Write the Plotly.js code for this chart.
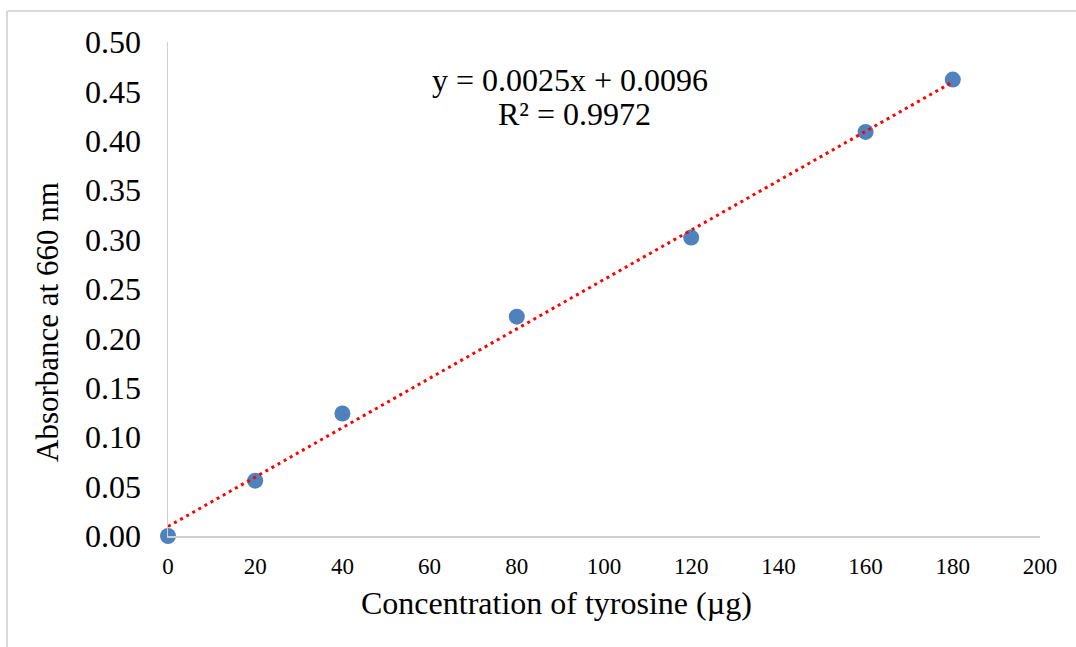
<!DOCTYPE html>
<html>
<head>
<meta charset="utf-8">
<script src="https://cdn.plot.ly/plotly-3.0.1.min.js"></script>
<style>
html,body{margin:0;padding:0;background:#fff;}
#chart{width:1076px;height:647px;}
</style>
</head>
<body>
<div id="chart"></div>
<script>
// Data
const concentration = [0, 20, 40, 80, 120, 160, 180];
const absorbance = [0.000, 0.056, 0.124, 0.222, 0.302, 0.409, 0.462];
const xTicks = [0, 20, 40, 60, 80, 100, 120, 140, 160, 180, 200];
const yTicks = [0, 0.05, 0.10, 0.15, 0.20, 0.25, 0.30, 0.35, 0.40, 0.45, 0.50];
const yTickLabels = ["0.00","0.05","0.10","0.15","0.20","0.25","0.30","0.35","0.40","0.45","0.50"];
const slope = 0.0025;
const intercept = 0.0096;
const equationLine = "y = 0.0025x + 0.0096";
const r2Line = "R² = 0.9972";
const xTitle = "Concentration of tyrosine (µg)";
const yTitle = "Absorbance at 660 nm";

const trendX = [Math.min(...concentration), Math.max(...concentration)];
const trendY = trendX.map(x => slope * x + intercept);

const W = 1076, H = 647;
const margin = {l: 168, r: 36, t: 42, b: 111};
const pw = W - margin.l - margin.r, ph = H - margin.t - margin.b;
const px = v => (v - margin.l) / pw;        // page x -> paper x
const py = v => (H - margin.b - v) / ph;    // page y -> paper y

const font = "Liberation Serif, Times New Roman, serif";

const traces = [
  {
    x: concentration, y: absorbance, type: 'scatter', mode: 'markers',
    marker: {color: '#4F81BD', size: 16, line: {width: 0}},
    cliponaxis: false, hoverinfo: 'x+y', showlegend: false
  },
  {
    x: trendX, y: trendY, type: 'scatter', mode: 'lines',
    line: {color: '#FF0000', width: 3, dash: '3px,4px'},
    cliponaxis: false, hoverinfo: 'skip', showlegend: false
  }
];

const layout = {
  width: W, height: H,
  margin: margin,
  paper_bgcolor: '#ffffff', plot_bgcolor: '#ffffff',
  font: {family: font, color: '#000000'},
  showlegend: false,
  xaxis: {
    range: [0, 200], tickvals: xTicks, ticktext: xTicks.map(String),
    showgrid: false, zeroline: false, showline: true,
    linecolor: '#d0d0d0', linewidth: 1.5, ticks: '',
    tickfont: {family: font, size: 23, color: '#000'},
    ticklabelstandoff: 9, fixedrange: true
  },
  yaxis: {
    range: [0, 0.5], tickvals: yTicks, ticktext: yTickLabels,
    showgrid: false, zeroline: false, showline: true,
    linecolor: '#d0d0d0', linewidth: 1.5, ticks: '',
    tickfont: {family: font, size: 32, color: '#000'},
    ticklabelstandoff: 19, fixedrange: true
  },
  annotations: [
    {
      xref: 'paper', yref: 'paper', x: px(570), y: py(80),
      text: equationLine, showarrow: false,
      xanchor: 'center', yanchor: 'middle',
      font: {family: font, size: 32, color: '#000'}
    },
    {
      xref: 'paper', yref: 'paper', x: px(574), y: py(114),
      text: r2Line, showarrow: false,
      xanchor: 'center', yanchor: 'middle',
      font: {family: font, size: 32, color: '#000'}
    },
    {
      xref: 'paper', yref: 'paper', x: px(556), y: py(603),
      text: xTitle, showarrow: false, xanchor: 'center', yanchor: 'middle',
      font: {family: font, size: 32, color: '#000'}
    },
    {
      xref: 'paper', yref: 'paper', x: px(47), y: py(322),
      text: yTitle, showarrow: false, textangle: -90,
      xanchor: 'center', yanchor: 'middle',
      font: {family: font, size: 31, color: '#000'}
    }
  ],
  shapes: [
    {type: 'line', xref: 'paper', yref: 'paper', x0: px(7), x1: px(1076), y0: py(11), y1: py(11),
     line: {color: '#d9d9d9', width: 2}},
    {type: 'line', xref: 'paper', yref: 'paper', x0: px(7), x1: px(7), y0: py(11), y1: py(647),
     line: {color: '#d9d9d9', width: 2}}
  ]
};

Plotly.newPlot('chart', traces, layout, {displayModeBar: false, staticPlot: true});
</script>
</body>
</html>
